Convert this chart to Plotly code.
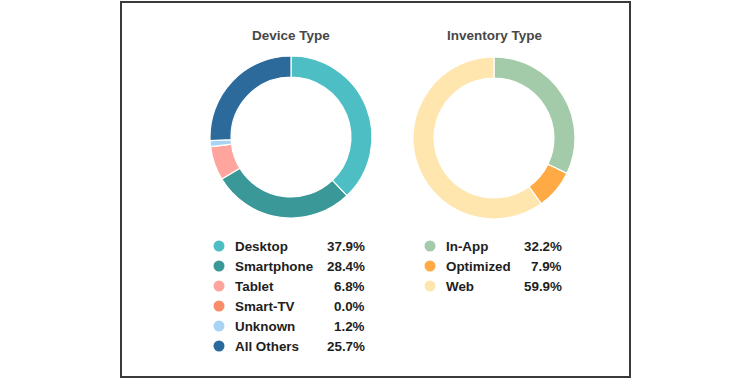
import plotly.graph_objects as go

W, H = 752, 380

device_labels = ["Desktop", "Smartphone", "Tablet", "Smart-TV", "Unknown", "All Others"]
device_values = [37.9, 28.4, 6.8, 0.0, 1.2, 25.7]
device_colors = ["#4dbfc4", "#3a9898", "#ffa59e", "#f98d6b", "#a8d3f3", "#2d6a9c"]

inv_labels = ["In-App", "Optimized", "Web"]
inv_values = [32.2, 7.9, 59.9]
inv_colors = ["#a4cba9", "#ffaa45", "#ffe5ae"]

titles = ["Device Type", "Inventory Type"]


def px_x(x):
    return x / W


def px_y(y):
    return 1 - y / H


fig = go.Figure()

for labels, values, colors, cx, cy in [
    (device_labels, device_values, device_colors, 291, 137),
    (inv_labels, inv_values, inv_colors, 494, 138),
]:
    r = 81
    fig.add_trace(go.Pie(
        labels=labels, values=values, sort=False, direction="clockwise",
        hole=0.74, textinfo="none", showlegend=False,
        marker=dict(colors=colors, line=dict(color="white", width=1.2)),
        domain=dict(x=[px_x(cx - r), px_x(cx + r)], y=[px_y(cy + r), px_y(cy - r)]),
    ))

leg_font = dict(family="Liberation Sans, Arial, sans-serif", size=13.4, color="#1e1e1e")
annotations = []
row_gap = 20
for labels, values, colors, mx, tx, vx, y0 in [
    (device_labels, device_values, device_colors, 219, 233, 367, 246),
    (inv_labels, inv_values, inv_colors, 430, 444, 564, 246),
]:
    ys = [y0 + i * row_gap for i in range(len(labels))]
    fig.add_trace(go.Scatter(
        x=[mx] * len(labels), y=ys, mode="markers", showlegend=False,
        hoverinfo="skip",
        marker=dict(size=11, color=colors, line=dict(width=0)),
        xaxis="x", yaxis="y",
    ))
    for lab, val, y in zip(labels, values, ys):
        annotations.append(dict(x=tx, y=y, xref="x", yref="y", text=f"<b>{lab}</b>",
                                showarrow=False, xanchor="left", yanchor="middle",
                                font=leg_font))
        annotations.append(dict(x=vx, y=y, xref="x", yref="y", text=f"<b>{val:.1f}%</b>",
                                showarrow=False, xanchor="right", yanchor="middle",
                                font=leg_font))

for t, x in zip(titles, [291, 495]):
    annotations.append(dict(x=x, y=35, xref="x", yref="y", text=f"<b>{t}</b>",
                            showarrow=False, xanchor="center", yanchor="middle",
                            font=dict(family="Liberation Sans, Arial, sans-serif",
                                      size=13.5, color="#474747")))

fig.update_layout(
    width=W, height=H,
    margin=dict(l=0, r=0, t=0, b=0),
    paper_bgcolor="white", plot_bgcolor="rgba(0,0,0,0)",
    xaxis=dict(range=[0, W], visible=False, fixedrange=True, domain=[0, 1]),
    yaxis=dict(range=[H, 0], visible=False, fixedrange=True, domain=[0, 1]),
    annotations=annotations,
    shapes=[dict(type="rect", xref="x", yref="y", x0=121, x1=630, y0=2, y1=377,
                 line=dict(color="#3a3a3a", width=2), fillcolor="rgba(0,0,0,0)",
                 layer="below")],
)

fig.write_html("out.html", config={"displayModeBar": False},
               post_script="document.body.style.margin='0';")
